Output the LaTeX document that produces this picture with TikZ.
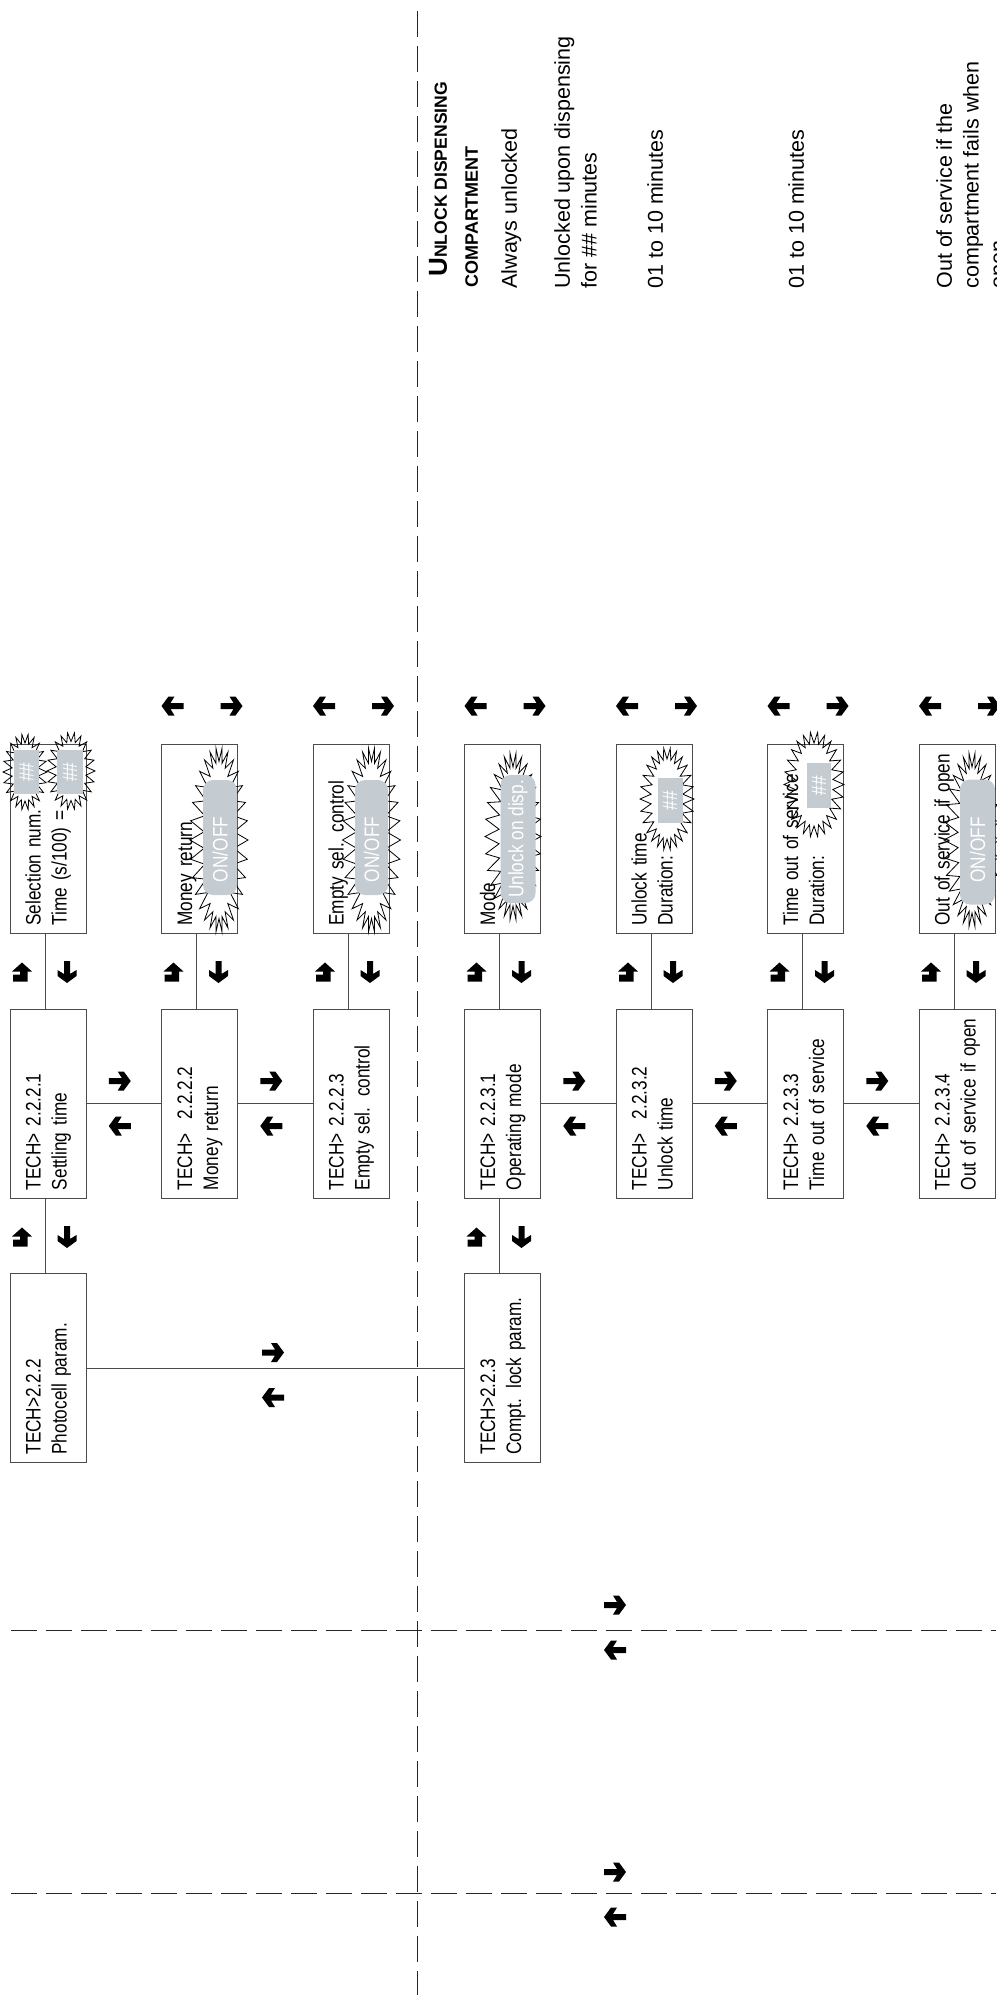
\documentclass[tikz,border=0pt]{standalone}
\usepackage{fontspec}
\setmainfont{Liberation Sans}
\newfontfamily\narrowfont[FakeStretch=0.82]{Liberation Sans}
\usetikzlibrary{shapes.symbols}
\definecolor{lcdgray}{RGB}{196,203,209}
\definecolor{rulegray}{RGB}{75,75,75}
\tikzset{
  every node/.style = {font=\narrowfont\fontsize{10.5}{13}\selectfont},
  menu/.style   = {draw=rulegray, line width=0.5pt, rotate=90, minimum width=94.5pt, minimum height=38pt,
                   inner xsep=4pt, inner ysep=0pt, text width=86.5pt, align=left,
                   text height=8pt, text depth=15.5pt},
  screen/.style = {menu, minimum width=94pt},
  value/.style  = {fill=lcdgray, text=white, rotate=90, inner sep=0pt},
  onoff/.style  = {value, rounded corners=5pt},
  flash/.style  = {starburst, draw, line width=0.4pt, rotate=90, inner sep=0pt, outer sep=0pt,
                   random starburst=0, starburst point height=7pt, starburst points=30},
  link/.style   = {draw=rulegray, line width=0.5pt},
  fold/.style   = {draw=black!85, line width=0.5pt, dash pattern=on 13pt off 4.5pt},
  note/.style   = {rotate=90, anchor=north west, inner sep=0pt, align=left, font=\fontsize{10.75}{13.3}\selectfont},
  rarrow/.pic   = {\fill (-11,-3) -- (2,-3) -- (-2,-9.5) -- (4,-9.5) -- (11,0) -- (4,9.5) -- (-2,9.5) -- (2,3) -- (-11,3) -- cycle;},
  larrow/.pic   = {\fill (11,-3) -- (-2,-3) -- (2,-9.5) -- (-4,-9.5) -- (-11,0) -- (-4,9.5) -- (2,9.5) -- (-2,3) -- (11,3) -- cycle;},
  darrow/.pic   = {\fill (3,-11) -- (3,2) -- (9.5,-2) -- (9.5,4) -- (0,11) -- (-9.5,4) -- (-9.5,-2) -- (-3,2) -- (-3,-11) -- cycle;},
  uarrow/.pic   = {\fill (0,-9.5) -- (10,-0.5) -- (5.5,-0.5) -- (5.5,9.5) -- (-9,9.5) -- (-9,2.5) -- (-2,2.5) -- (-2,-0.5) -- (-10,-0.5) -- cycle;}
}

\begin{document}
\begin{tikzpicture}[x=0.5pt, y=-0.5pt]
\useasboundingbox (0,0) rectangle (996,1995);

% fold lines of the page
\draw[fold] (417,11) -- (417,1995);
\draw[fold] (11,1630) -- (996,1630);
\draw[fold] (11,1893) -- (996,1893);

% display screens
\foreach \i/\txt in {0/{Selection num.\\Time (s/100) =}, 1/Money return, 2/Empty sel. control, 3/Mode,
                     4/{Unlock time\\Duration:}, 5/{Time out of service\\Duration:}, 6/Out of service if open}
  \node[screen] (d\i) at ({48+151.5*\i},839) {\txt};

% blinking fields
\node[flash, minimum width=38pt, minimum height=22pt, starburst points=22, starburst point height=4.5pt] (f0a) at (25,772) {};
\node[flash, minimum width=38.5pt, minimum height=24pt, starburst points=22, starburst point height=4.5pt] (f0b) at (71,771) {};
\node[flash, minimum width=92.5pt, minimum height=29pt] (f1) at (219,840) {};
\node[flash, minimum width=92.5pt, minimum height=29pt] (f2) at (371.5,840) {};
\node[flash, minimum width=83.5pt, minimum height=28pt] (f3) at (513,836.5) {};
\node[flash, minimum width=51pt, minimum height=27pt, starburst points=26, starburst point height=5.5pt] (f4) at (667,799) {};
\node[flash, minimum width=52.5pt, minimum height=30pt, starburst points=26, starburst point height=5.5pt] (f5) at (814,784.5) {};
\node[flash, minimum width=87pt, minimum height=28pt] (f6) at (972,840) {};

\node[value, minimum width=22pt, minimum height=12.5pt] (v0a) at (26.5,772) {\#\#};
\node[value, minimum width=22pt, minimum height=13pt] (v0b) at (70,772) {\#\#};
\node[onoff, minimum width=57.5pt, minimum height=17pt, inner xsep=6.5pt, text width=44.5pt, align=left] (v1) at (220,837.5) {ON/OFF};
\node[onoff, minimum width=57.5pt, minimum height=16.5pt, inner xsep=6.5pt, text width=44.5pt, align=left] (v2) at (371.5,837.5) {ON/OFF};
\node[onoff, minimum width=64pt, minimum height=17.5pt] (v3) at (518,839) {Unlock on disp.};
\node[value, minimum width=22.5pt, minimum height=12.5pt] (v4) at (670,800.5) {\#\#};
\node[value, minimum width=22.5pt, minimum height=12pt] (v5) at (819,785.5) {\#\#};
\node[onoff, minimum width=62.5pt, minimum height=17.5pt, inner xsep=11pt, text width=40.5pt, align=left] (v6) at (977.5,842) {ON/OFF};

% menu entries
\foreach \i/\txt in {0/{TECH> 2.2.2.1\\Settling time}, 1/{TECH>~~2.2.2.2\\Money return},
                     2/{TECH> 2.2.2.3\\Empty sel. control}, 3/{TECH> 2.2.3.1\\Operating mode},
                     4/{TECH>~~2.2.3.2\\Unlock time}, 5/{TECH> 2.2.3.3\\Time out of service},
                     6/{TECH> 2.2.3.4\\Out of service if open}}
  \node[menu] (m\i) at ({48+151.5*\i},1103.5) {\txt};
\node[menu] (photo) at (48,1368) {TECH>2.2.2\\Photocell param.};
\node[menu] (compt) at (502.5,1368) {TECH>2.2.3\\Compt. lock param.};

% connections
\foreach \i in {0,...,6}
  \draw[link] ([xshift=-1.5pt]d\i.west) -- ([xshift=-1.5pt]m\i.east);
\foreach \a/\b in {0/1,1/2,3/4,4/5,5/6}
  \draw[link] (m\a.south) -- (m\b.north);
\draw[link] ([xshift=-1.5pt]m0.west) -- ([xshift=-1.5pt]photo.east);
\draw[link] ([xshift=-1.5pt]m3.west) -- ([xshift=-1.5pt]compt.east);
\draw[link] (photo.south) -- (compt.north);

% keys
\foreach \i in {1,...,6} {
  \pic at ({21+151.5*\i},706) {larrow};
  \pic at ({80+151.5*\i},706) {rarrow};
}
\foreach \i in {0,...,6} {
  \pic at ({22+151.5*\i},972) {uarrow};
  \pic at ({67+151.5*\i},972) {darrow};
}
\foreach \i in {0,3} {
  \pic at ({22+151.5*\i},1237) {uarrow};
  \pic at ({67+151.5*\i},1237) {darrow};
}
\foreach \a in {0,1,3,4,5} {
  \pic at ({119.75+151.5*\a},1081) {rarrow};
  \pic at ({119.75+151.5*\a},1126) {larrow};
}
\pic at (273,1352.5) {rarrow};
\pic at (273,1397.5) {larrow};
\pic at (615,1605) {rarrow};
\pic at (615,1650) {larrow};
\pic at (615,1872) {rarrow};
\pic at (615,1917) {larrow};

% description column
\node[note, font=\bfseries\fontsize{8.8}{10}\selectfont] (title) at (428.5,277) {{\fontsize{13}{13}\selectfont U}NLOCK DISPENSING};
\node[note, font=\bfseries\fontsize{9}{10}\selectfont] (title2) at (465,288) {COMPARTMENT};
\node[note] (n1) at (501,289) {Always unlocked};
\node[note] (n2) at (554,289) {Unlocked upon dispensing\\for \#\# minutes};
\node[note] (n3) at (647,289) {01 to 10 minutes};
\node[note] (n4) at (788,289) {01 to 10 minutes};
\node[note] (n5) at (936,289) {Out of service if the\\compartment fails when\\open};
\end{tikzpicture}
\end{document}
